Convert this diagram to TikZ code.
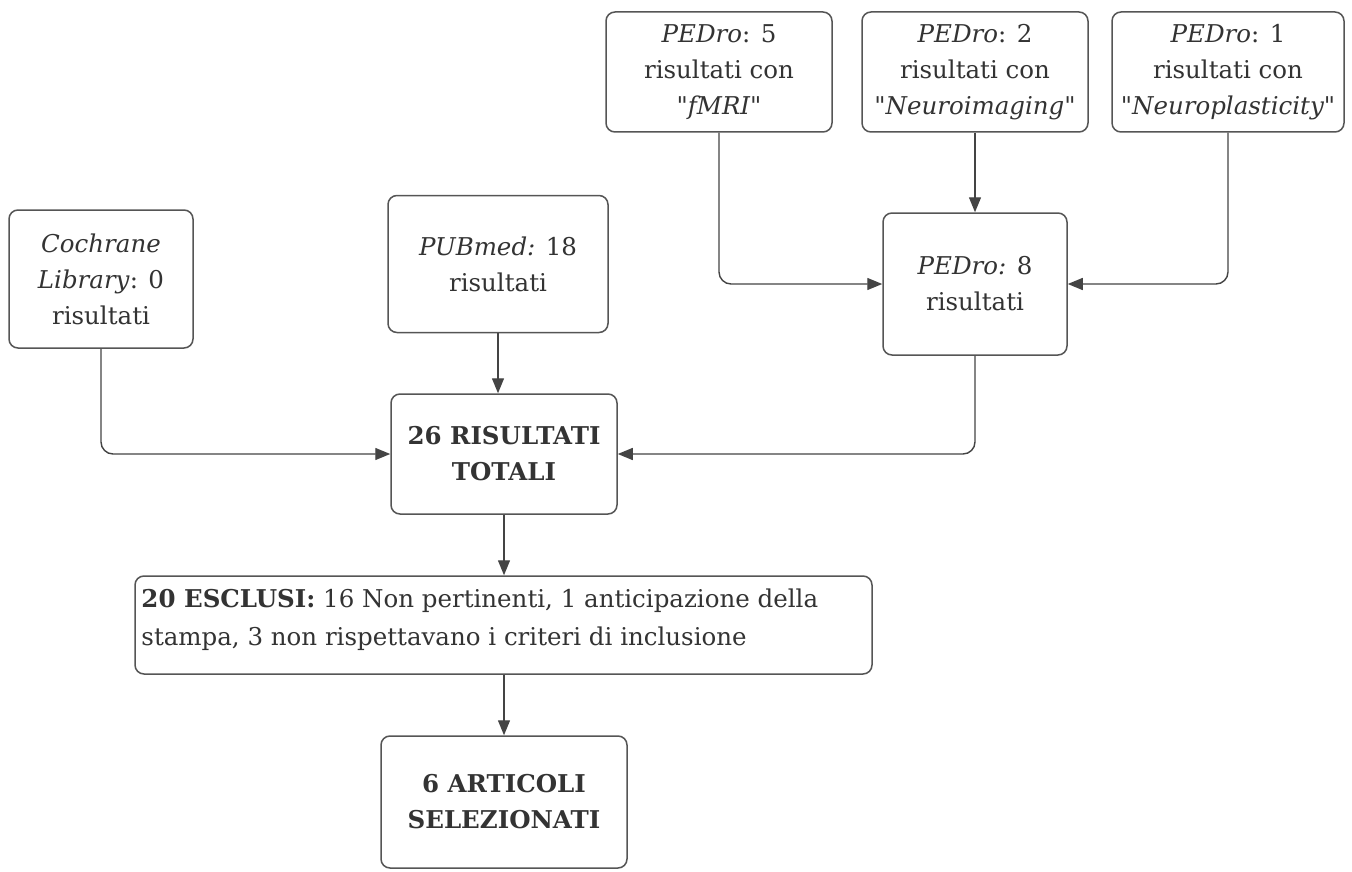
\documentclass[tikz,border=0pt]{standalone}
\usepackage{fontspec}
\setmainfont{DejaVu Serif}[Ligatures=TeXOff]
\usetikzlibrary{arrows.meta}
\definecolor{txt}{HTML}{333333}
\definecolor{edge}{HTML}{555555}
\tikzset{
  box/.style={draw=edge, line width=1.5pt, rounded corners=9pt, fill=white, inner sep=0pt, align=center, text=txt, font=\fontsize{24.5}{36}\selectfont},
  arr/.style={draw=edge!80!black, line width=1.4pt, rounded corners=12pt, -{Triangle[length=15pt,width=12pt]}}
}
\begin{document}
\begin{tikzpicture}[x=1pt,y=-1pt]
\useasboundingbox (0,0) rectangle (1352,872);
\node[box, minimum width=226pt, minimum height=120pt] (p5) at (719,72) {\textit{PEDro}: 5\\risultati con\\\textit{"fMRI"}};
\node[box, minimum width=226pt, minimum height=120pt] (p2) at (975,72) {\textit{PEDro}: 2\\risultati con\\\textit{"Neuroimaging"}};
\node[box, minimum width=232pt, minimum height=120pt] (p1) at (1228,72) {\textit{PEDro}: 1\\risultati con\\\textit{"Neuroplasticity"}};
\node[box, minimum width=184pt, minimum height=138pt] (coch) at (101,279) {\textit{Cochrane}\\\textit{Library}: 0\\risultati};
\node[box, minimum width=220pt, minimum height=137pt] (pub) at (498,264) {\textit{PUBmed:} 18\\risultati};
\node[box, minimum width=184pt, minimum height=142pt] (p8) at (975,284) {\textit{PEDro:} 8\\risultati};
\node[box, minimum width=226pt, minimum height=120pt] (tot) at (504,454) {\textbf{26 RISULTATI}\\\textbf{TOTALI}};
\node[box, minimum width=737pt, minimum height=98pt] (excl) at (503.5,625) {};
\node[anchor=north west, inner sep=0pt, align=left, text=txt, font=\fontsize{24.5}{38}\selectfont] (excltext) at ([xshift=7pt,yshift=-13pt]excl.north west) {\textbf{20 ESCLUSI:} 16 Non pertinenti, 1 anticipazione della\\stampa, 3 non rispettavano i criteri di inclusione};
\node[box, minimum width=246pt, minimum height=132pt] (sel) at (504,802) {\textbf{6 ARTICOLI}\\\textbf{SELEZIONATI}};
\draw[arr] (p5.south) |- (p8.west);
\draw[arr] (p2.south) -- (p8.north);
\draw[arr] (p1.south) |- (p8.east);
\draw[arr] (coch.south) |- (tot.west);
\draw[arr] (pub.south) -- (pub.south |- tot.north);
\draw[arr] (p8.south) |- (tot.east);
\draw[arr] (tot.south) -- (tot.south |- excl.north);
\draw[arr] (sel.north |- excl.south) -- (sel.north);
\end{tikzpicture}
\end{document}
